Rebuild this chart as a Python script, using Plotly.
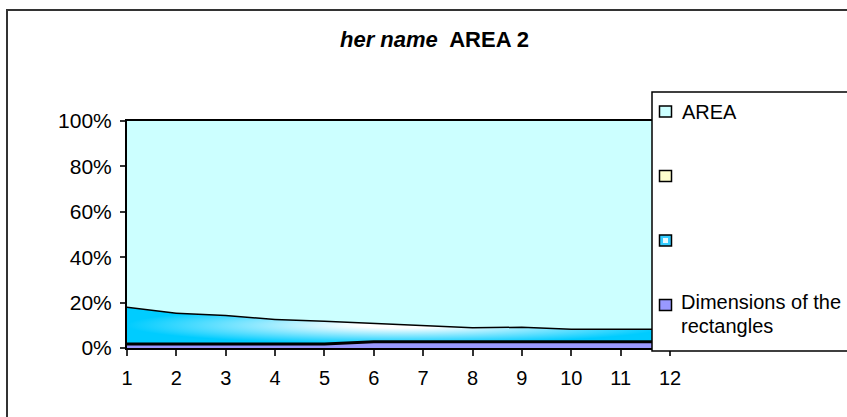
import plotly.graph_objects as go

# Category labels along the horizontal axis
categories = [1, 2, 3, 4, 5, 6, 7, 8, 9, 10, 11, 12]

# Stacked shares (percent of each category), bottom to top
dimensions = [1.8, 1.8, 1.8, 1.8, 1.8, 2.7, 2.7, 2.7, 2.7, 2.7, 2.7, 2.7]
blue_band = [16.5, 13.8, 12.8, 11.1, 10.3, 8.5, 7.7, 6.5, 6.8, 5.9, 5.9, 5.9]
yellow_band = [0, 0, 0, 0, 0, 0, 0, 0, 0, 0, 0, 0]
area = [81.7, 84.4, 85.4, 87.1, 87.9, 88.8, 89.6, 90.8, 90.5, 91.4, 91.4, 91.4]

y_ticks = [0, 20, 40, 60, 80, 100]
y_tick_labels = ["0%", "20%", "40%", "60%", "80%", "100%"]

legend_names = ["AREA", "", "", "Dimensions of the rectangles"]

title_html = "<b><i>her name</i>  AREA 2</b>"

W, H = 847, 417
L, R, T, B = 127, 177, 121, 69
PW, PH = W - L - R, H - T - B
FONT = "Liberation Sans, Arial, sans-serif"


def px(x):
    return (x - L) / PW


def py(y):
    return (H - B - y) / PH


fig = go.Figure()

fig.add_trace(go.Scatter(
    x=categories, y=dimensions, name=legend_names[3], stackgroup="s",
    groupnorm="percent", mode="lines",
    line=dict(color="#000000", width=3), fillcolor="#9999FF",
))
fig.add_trace(go.Scatter(
    x=categories, y=blue_band, name="blue", stackgroup="s", mode="lines",
    line=dict(color="#000000", width=3),
    fillgradient=dict(type="radial",
                      colorscale=[[0, "#FFFFFF"], [0.15, "#FFFFFF"], [1, "#00CCFF"]]),
))
fig.add_trace(go.Scatter(
    x=categories, y=yellow_band, name="yellow", stackgroup="s", mode="lines",
    line=dict(color="#000000", width=0), fillcolor="#FFFFCC",
))
fig.add_trace(go.Scatter(
    x=categories, y=area, name=legend_names[0], stackgroup="s", mode="lines",
    line=dict(color="#000000", width=0), fillcolor="#CCFFFF",
))

shapes = []
annotations = []


def open_path(points):
    return "M " + " L ".join(f"{px(x)} {py(y)}" for x, y in points)


# outer chart frame (left and top edges; the rest runs off the page)
shapes.append(dict(type="path", xref="paper", yref="paper",
                   path=open_path([(7, 417), (7, 10), (847, 10)]),
                   line=dict(color="#333333", width=2), layer="above"))

# legend box, open on the right where it runs off the page
shapes.append(dict(type="path", xref="paper", yref="paper",
                   path=open_path([(850, 92), (652, 92), (652, 351), (850, 351)]),
                   line=dict(color="#000000", width=1.5), fillcolor="#FFFFFF",
                   layer="above"))

legend_rows = [111.5, 176, 240.5, 305]
legend_fills = ["#CCFFFF", "#FFFFCC", "#33CCFF", "#9999FF"]
for yc, fc in zip(legend_rows, legend_fills):
    shapes.append(dict(type="rect", xref="paper", yref="paper",
                       x0=px(659.5), x1=px(671.5), y0=py(yc - 5.5), y1=py(yc + 5.5),
                       line=dict(color="#000000", width=1.5), fillcolor=fc,
                       layer="above"))
# lighter centre of the gradient swatch
shapes.append(dict(type="rect", xref="paper", yref="paper",
                   x0=px(663), x1=px(668), y0=py(238), y1=py(243),
                   line=dict(width=0), fillcolor="#E8FAFF", layer="above"))

annotations.append(dict(text=legend_names[0], xref="paper", yref="paper",
                        x=px(680), y=py(111.5), xanchor="left", yanchor="middle",
                        showarrow=False, font=dict(size=20, color="#000000", family=FONT)))
# two-line legend label, stacked so the lines just meet
annotations.append(dict(text="Dimensions of the", xref="paper", yref="paper",
                        x=px(680), y=py(314), xanchor="left", yanchor="bottom",
                        showarrow=False, borderpad=0,
                        font=dict(size=20, color="#000000", family=FONT)))
annotations.append(dict(text="rectangles", xref="paper", yref="paper",
                        x=px(680), y=py(314), xanchor="left", yanchor="top",
                        showarrow=False, borderpad=0,
                        font=dict(size=20, color="#000000", family=FONT)))

annotations.append(dict(text=title_html, xref="paper", yref="paper",
                        x=px(434), y=py(40), xanchor="center", yanchor="middle",
                        showarrow=False, font=dict(size=22, color="#000000", family=FONT)))

fig.update_layout(
    width=W, height=H,
    margin=dict(l=L, r=R, t=T, b=B, pad=0),
    paper_bgcolor="#FFFFFF", plot_bgcolor="#FFFFFF",
    showlegend=False,
    shapes=shapes, annotations=annotations,
    font=dict(family=FONT, size=20, color="#000000"),
    xaxis=dict(range=[1, 12], tickmode="array", tickvals=categories,
               ticktext=[str(c) for c in categories],
               showgrid=False, zeroline=False,
               showline=True, mirror=True, linecolor="#000000", linewidth=2,
               ticks="outside", ticklen=6, tickwidth=1.5, tickcolor="#333333",
               ticklabelstandoff=5,
               tickfont=dict(size=20, family=FONT, color="#000000")),
    yaxis=dict(range=[0, 100], tickmode="array", tickvals=y_ticks,
               ticktext=y_tick_labels,
               showgrid=False, zeroline=False,
               showline=True, mirror=True, linecolor="#000000", linewidth=2,
               ticks="outside", ticklen=5, tickwidth=1.5, tickcolor="#333333",
               ticklabelstandoff=4,
               tickfont=dict(size=21, family=FONT, color="#000000")),
)

fig.write_html("out.html")
